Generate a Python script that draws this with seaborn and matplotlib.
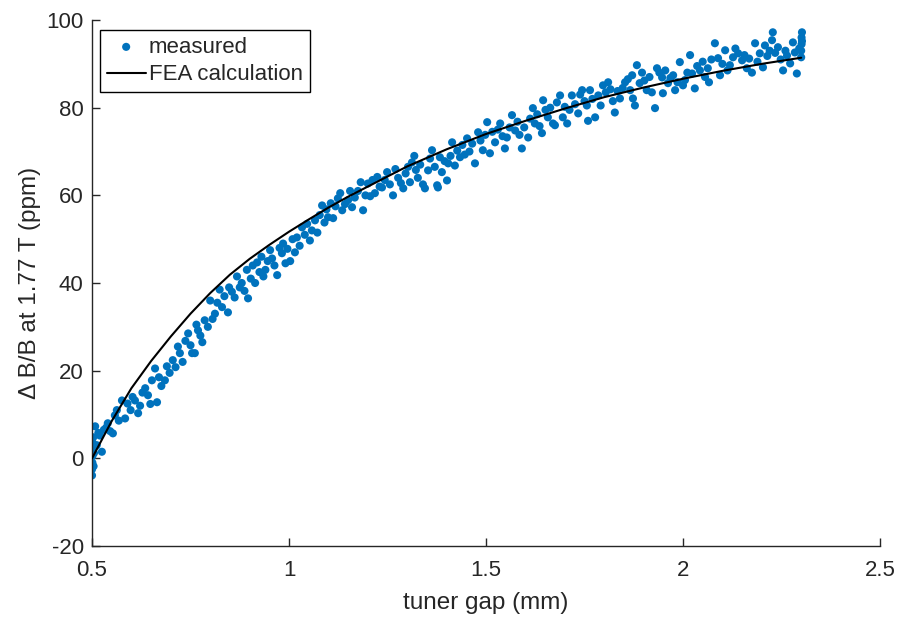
import matplotlib
matplotlib.use("Agg")
import pandas as pd
import seaborn as sns
from matplotlib import pyplot as plt

# measured points (tuner gap in mm, field change in ppm)
gap_mm = [
    0.500, 0.500, 0.501, 0.501, 0.502, 0.502, 0.503, 0.504, 0.505, 0.508, 0.512, 0.516, 0.520,
    0.525, 0.530, 0.536, 0.540, 0.546, 0.553, 0.558, 0.563, 0.568, 0.576, 0.584, 0.590, 0.598,
    0.603, 0.609, 0.617, 0.622, 0.628, 0.635, 0.642, 0.648, 0.652, 0.660, 0.665, 0.670, 0.676,
    0.685, 0.690, 0.697, 0.705, 0.712, 0.718, 0.723, 0.730, 0.737, 0.744, 0.750, 0.754, 0.761,
    0.765, 0.769, 0.775, 0.780, 0.786, 0.794,
    0.800, 0.806, 0.812, 0.818, 0.824, 0.830, 0.836, 0.845, 0.848, 0.855, 0.862, 0.868, 0.875,
    0.880, 0.887, 0.893, 0.896, 0.903, 0.908, 0.914, 0.919, 0.925, 0.930, 0.935, 0.940, 0.946,
    0.952, 0.957, 0.963, 0.970, 0.976, 0.982, 0.985, 0.991, 0.996,
    1.003, 1.009, 1.015, 1.020, 1.027, 1.033, 1.040, 1.046, 1.053, 1.058, 1.066, 1.072, 1.078,
    1.084, 1.090, 1.095, 1.099, 1.106, 1.112, 1.118, 1.124, 1.130, 1.135, 1.142, 1.150, 1.155,
    1.160, 1.167, 1.175, 1.182, 1.188, 1.194,
    1.200, 1.206, 1.212, 1.218, 1.224, 1.230, 1.236, 1.243, 1.249, 1.256, 1.264, 1.270, 1.277,
    1.284, 1.290, 1.296, 1.302, 1.307, 1.312, 1.318, 1.322, 1.327, 1.333, 1.340, 1.345, 1.353,
    1.358, 1.363, 1.370, 1.376, 1.378, 1.383, 1.388, 1.395,
    1.401, 1.404, 1.410, 1.414, 1.421, 1.427, 1.434, 1.440, 1.446, 1.452, 1.458, 1.465, 1.472,
    1.480, 1.486, 1.492, 1.498, 1.503, 1.510, 1.516, 1.523, 1.530, 1.536, 1.542, 1.548, 1.553,
    1.560, 1.566, 1.574, 1.580, 1.585, 1.591, 1.597,
    1.607, 1.612, 1.619, 1.624, 1.630, 1.636, 1.642, 1.645, 1.651, 1.657, 1.663, 1.670, 1.675,
    1.680, 1.688, 1.695, 1.700, 1.706, 1.712, 1.718, 1.726, 1.734, 1.739, 1.744, 1.750, 1.756,
    1.759, 1.764, 1.770, 1.777, 1.785, 1.791, 1.797,
    1.804, 1.810, 1.816, 1.822, 1.827, 1.834, 1.840, 1.847, 1.853, 1.860, 1.866, 1.871, 1.873,
    1.878, 1.883, 1.890, 1.896, 1.902, 1.908, 1.915, 1.921, 1.929, 1.934, 1.940, 1.947, 1.949,
    1.955, 1.962, 1.968, 1.975, 1.980, 1.986, 1.992,
    2.000, 2.005, 2.011, 2.018, 2.023, 2.030, 2.036, 2.043, 2.050, 2.056, 2.063, 2.066, 2.072,
    2.081, 2.089, 2.094, 2.100, 2.107, 2.113, 2.119, 2.127, 2.133, 2.140, 2.150, 2.156, 2.162,
    2.168, 2.175, 2.183, 2.189, 2.195, 2.203, 2.208, 2.214, 2.220, 2.226, 2.228, 2.234, 2.241,
    2.248, 2.254, 2.260, 2.264, 2.272, 2.279, 2.284, 2.289, 2.295, 2.300, 2.300, 2.301, 2.301,
    2.302, 2.302,
]
dB_ppm = [
    -3.9, -2.5, -1.0, 0.5, 2.0, 3.5, 4.8, -1.8, 1.2, 7.3, 3.0, 5.8, 5.2,
    1.5, 6.5, 7.0, 8.0, 6.2, 5.7, 9.8, 11.0, 8.6, 13.2, 9.1, 12.5, 11.0,
    14.0, 13.2, 10.3, 12.0, 15.0, 16.0, 14.4, 12.4, 17.8, 20.5, 12.8, 18.5, 16.5,
    17.8, 21.0, 19.5, 22.4, 20.8, 25.5, 24.0, 22.0, 26.8, 28.5, 25.8, 24.0, 24.0,
    30.5, 29.2, 28.0, 26.5, 31.5, 30.0,
    36.0, 31.8, 33.0, 35.5, 38.5, 34.5, 37.0, 33.3, 39.0, 38.0, 36.7, 41.5, 39.0,
    40.0, 38.2, 43.0, 36.5, 41.0, 44.0, 40.0, 44.7, 42.5, 46.0, 41.5, 43.0, 45.0,
    47.5, 45.6, 44.0, 41.8, 48.0, 46.8, 49.0, 44.5, 47.8,
    45.0, 50.0, 47.0, 50.4, 48.5, 52.7, 51.0, 53.5, 49.7, 52.0, 54.3, 51.5, 55.5,
    57.7, 53.8, 56.8, 55.0, 58.2, 54.8, 57.5, 59.3, 60.5, 56.6, 58.0, 58.9, 61.0,
    57.3, 59.5, 61.0, 63.0, 56.6, 60.0,
    62.7, 59.8, 63.5, 60.5, 64.2, 62.0, 61.8, 63.5, 65.3, 62.5, 60.0, 66.0, 64.0,
    62.8, 61.6, 65.0, 66.5, 63.0, 67.5, 69.0, 65.8, 64.0, 67.0, 62.5, 61.6, 65.7,
    68.4, 70.3, 66.5, 62.3, 61.8, 68.7, 65.3, 67.8,
    63.4, 67.3, 69.0, 72.1, 66.8, 70.2, 68.7, 71.5, 69.3, 73.0, 70.0, 71.8, 67.3,
    74.4, 72.5, 70.3, 73.8, 76.7, 69.6, 74.5, 72.1, 75.0, 76.4, 73.5, 70.7, 73.2,
    75.5, 78.3, 74.8, 76.8, 73.8, 70.7, 75.5,
    73.2, 77.5, 79.9, 76.4, 78.5, 75.8, 74.2, 81.7, 79.5, 77.8, 80.0, 76.4, 76.0,
    81.2, 82.8, 77.8, 80.2, 76.4, 79.5, 82.8, 80.8, 78.7, 83.0, 84.0, 81.5, 80.5,
    77.0, 84.0, 82.0, 77.8, 82.8, 80.5, 85.1,
    83.5, 85.8, 84.2, 81.5, 78.9, 83.8, 82.1, 84.5, 85.8, 86.5, 84.0, 87.4, 82.1,
    80.5, 89.7, 85.6, 88.0, 86.2, 84.0, 87.0, 83.5, 79.9, 89.0, 88.0, 86.9, 83.3,
    88.5, 85.6, 86.8, 87.4, 84.0, 85.8, 90.4,
    85.1, 86.3, 88.0, 92.0, 87.8, 84.4, 89.5, 88.5, 90.5, 87.0, 89.0, 85.8, 91.0,
    94.7, 91.3, 87.4, 90.0, 93.1, 88.5, 89.7, 91.5, 93.5, 92.4, 90.8, 92.0, 89.0,
    91.2, 88.0, 94.7, 90.5, 92.4, 89.2, 94.2, 91.8, 93.0, 95.4, 97.2, 92.5, 93.8,
    91.0, 88.5, 93.0, 91.9, 90.1, 94.9, 92.6, 87.8, 93.5, 91.5, 93.0, 94.5, 96.0,
    97.2, 95.2,
]

# FEA calculation curve
fea_gap = [0.50, 0.55, 0.60, 0.65, 0.70, 0.75, 0.80, 0.85, 0.90, 0.95, 1.00, 1.05, 1.10,
           1.15, 1.20, 1.30, 1.40, 1.50, 1.60, 1.70, 1.80, 1.90, 2.00, 2.10, 2.20, 2.30]
fea_ppm = [0.0, 8.5, 16.0, 22.2, 27.8, 33.0, 37.7, 41.9, 45.5, 48.7, 51.7, 54.5, 57.2,
           59.7, 62.0, 66.6, 70.5, 74.0, 77.0, 79.8, 82.4, 84.6, 86.6, 88.4, 90.0, 91.4]

xticks = [0.5, 1, 1.5, 2, 2.5]
xticklabels = ["0.5", "1", "1.5", "2", "2.5"]
yticks = [-20, 0, 20, 40, 60, 80, 100]
yticklabels = ["-20", "0", "20", "40", "60", "80", "100"]

measured = pd.DataFrame({"gap": gap_mm, "ppm": dB_ppm})
fea = pd.DataFrame({"gap": fea_gap, "ppm": fea_ppm})

sns.set_style("white")
plt.rcParams["font.family"] = ["Liberation Sans", "DejaVu Sans"]
axis_col = "#262626"

fig = plt.figure(figsize=(9.03, 6.22), dpi=100)
ax = fig.add_axes([0.1019, 0.1222, 0.8726, 0.8456])

sns.scatterplot(data=measured, x="gap", y="ppm", ax=ax, s=34, color="#0072BD",
                edgecolor="none", linewidth=0, label="measured", zorder=2)
sns.lineplot(data=fea, x="gap", y="ppm", ax=ax, color="black", linewidth=1.5,
             label="FEA calculation", zorder=3)

ax.set_xlim(0.5, 2.5)
ax.set_ylim(-20, 100)
ax.set_xticks(xticks)
ax.set_xticklabels(xticklabels)
ax.set_yticks(yticks)
ax.set_yticklabels(yticklabels)
ax.set_xlabel("tuner gap (mm)", fontsize=17.5, color=axis_col, labelpad=8)
ax.set_ylabel("Δ B/B at 1.77 T (ppm)", fontsize=17.5, color=axis_col, labelpad=4)
ax.tick_params(direction="in", length=6, width=1, colors=axis_col, labelsize=16,
               left=True, bottom=True)
ax.tick_params(axis="x", pad=10)
ax.tick_params(axis="y", pad=6)

for side in ["top", "right"]:
    ax.spines[side].set_visible(False)
for side in ["left", "bottom"]:
    ax.spines[side].set_color(axis_col)
    ax.spines[side].set_linewidth(1.0)

leg = ax.legend(loc="upper left", bbox_to_anchor=(0.0102, 0.981), fontsize=16,
                frameon=True, fancybox=False, framealpha=1, edgecolor="black",
                borderpad=0.3, labelspacing=0.3, handlelength=1.75, handletextpad=0.15,
                borderaxespad=0)
leg.get_frame().set_linewidth(1.0)

fig.savefig("out.png", dpi=100)
